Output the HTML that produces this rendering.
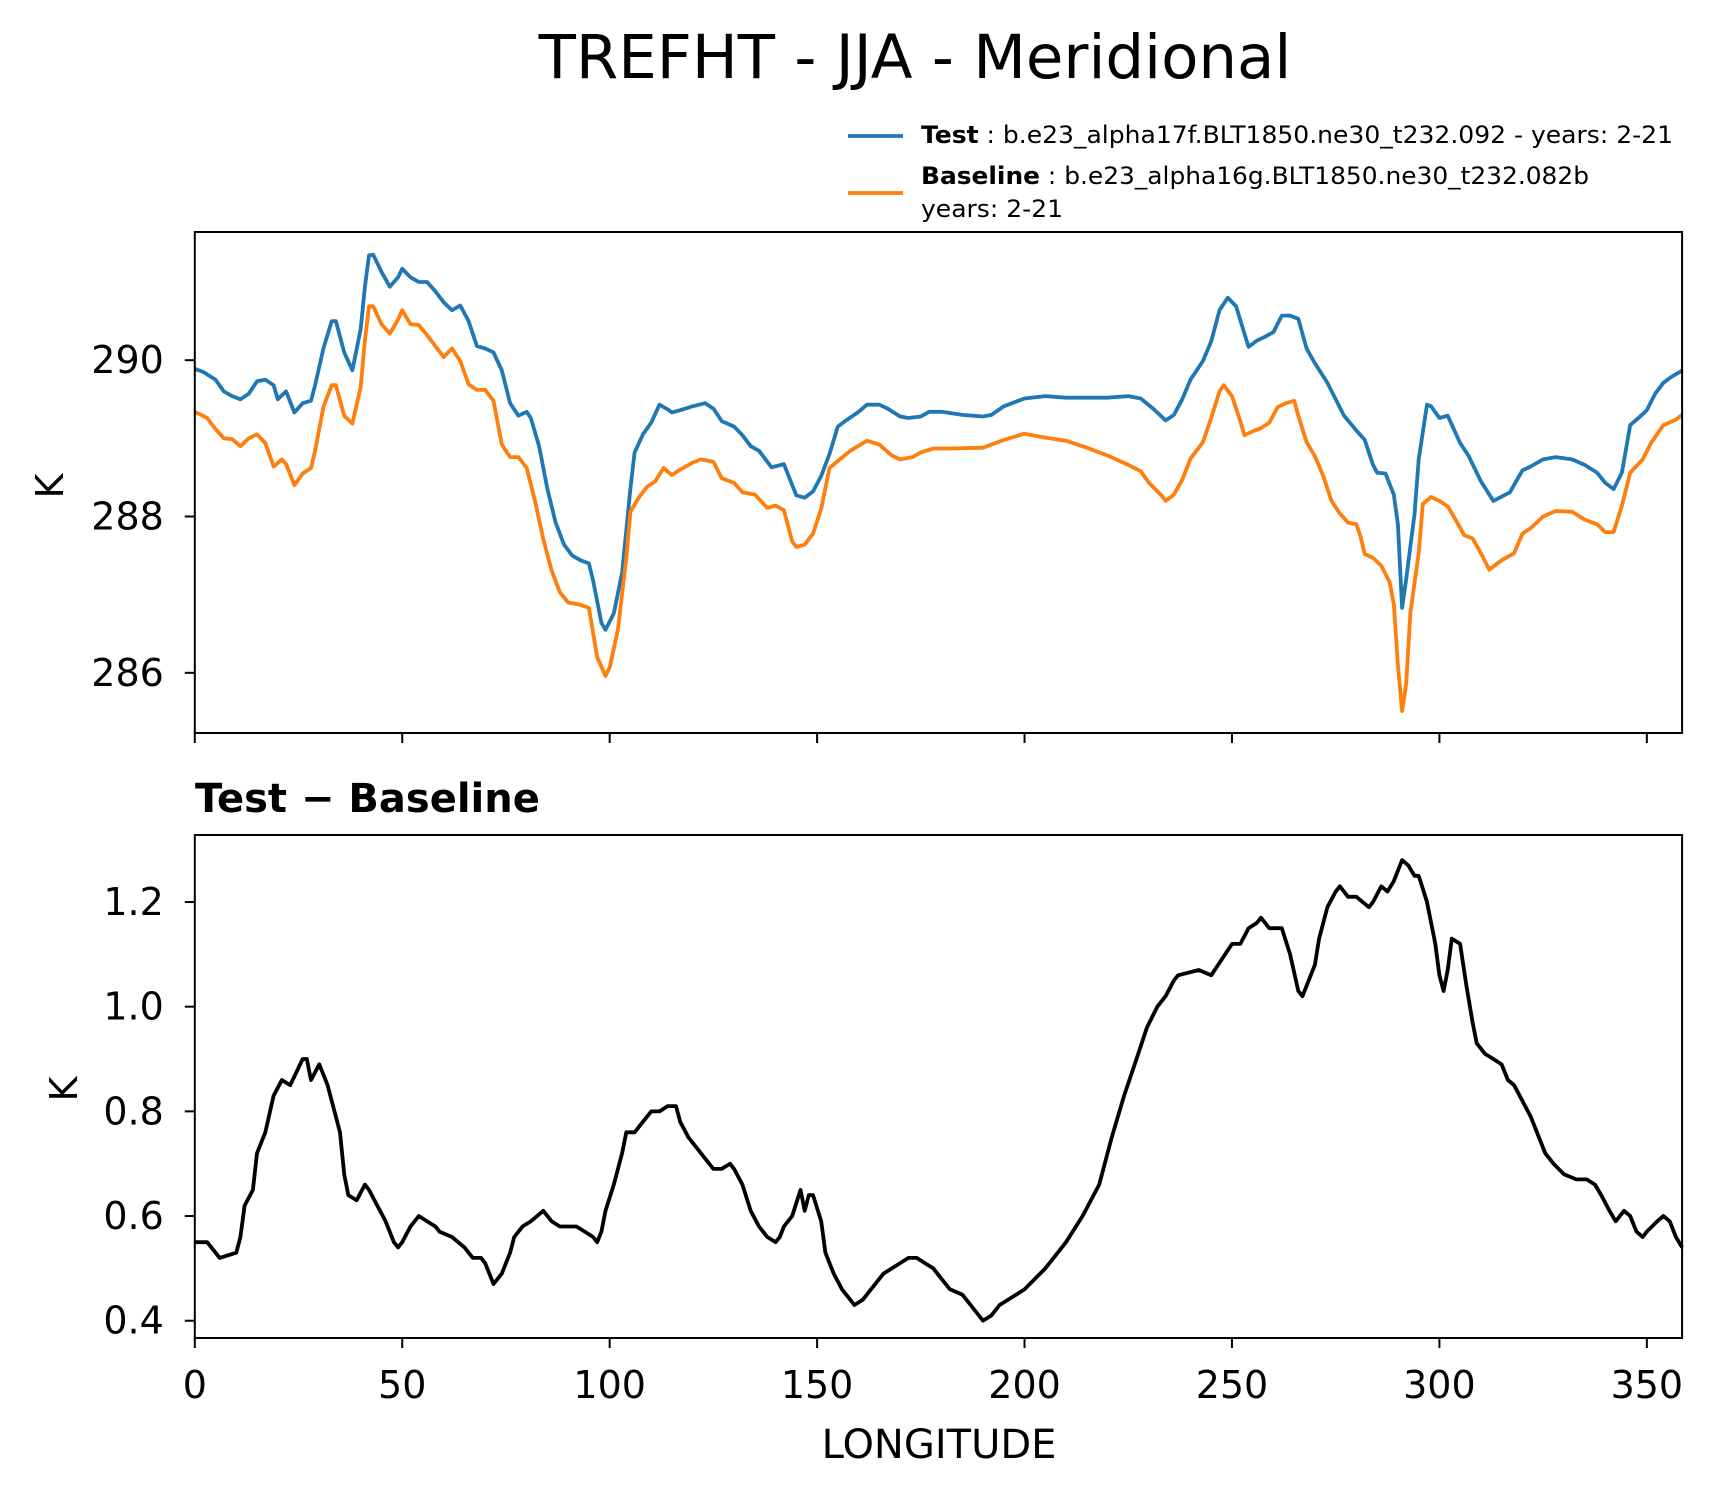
<!DOCTYPE html>
<html><head><meta charset="utf-8"><style>
body{margin:0;background:#fff;}
svg{display:block;font-family:"DejaVu Sans","Liberation Sans",sans-serif;}
</style></head><body>
<svg id="chart" width="1716" height="1496" viewBox="0 0 1716 1496">
<rect width="1716" height="1496" fill="#fff"/>
<text x="915" y="78" font-size="61" text-anchor="middle">TREFHT - JJA - Meridional</text>
<g>
<line x1="848" y1="136" x2="903" y2="136" stroke="#1f77b4" stroke-width="3.8"/>
<text x="921" y="143" font-size="24" textLength="752" lengthAdjust="spacingAndGlyphs"><tspan font-weight="bold">Test</tspan> : b.e23_alpha17f.BLT1850.ne30_t232.092 - years: 2-21</text>
<line x1="848" y1="193" x2="903" y2="193" stroke="#ff7f0e" stroke-width="3.8"/>
<text x="921" y="184" font-size="24" textLength="668" lengthAdjust="spacingAndGlyphs"><tspan font-weight="bold">Baseline</tspan> : b.e23_alpha16g.BLT1850.ne30_t232.082b</text>
<text x="921" y="217" font-size="24" textLength="142" lengthAdjust="spacingAndGlyphs">years: 2-21</text>
</g>
<g id="top"></g>
<text x="195" y="812" font-size="40" font-weight="bold">Test − Baseline</text>
<g id="bot"></g>
<text x="939" y="1458" font-size="40" text-anchor="middle">LONGITUDE</text>
<text transform="translate(63,486) rotate(-90)" font-size="38" text-anchor="middle">K</text>
<text transform="translate(77,1089) rotate(-90)" font-size="38" text-anchor="middle">K</text>
</svg>
<script>
const xTicks=[0,50,100,150,200,250,300,350];
const topTicks=[286,288,290];
const botTicks=[0.4,0.6,0.8,1.0,1.2];
const testLon=[0,2,5,7,9,11,13,15,17,19,20,22,24,26,28,29,31,33,34,36,38,40,41,42,43,45,47,49,50,52,54,56,58,60,62,64,66,68,70,72,74,76,78,80,81,83,85,87,89,91,93,95,96,98,99,101,103,105,106,108,110,112,114,115,117,120,123,125,127,130,132,134,136,139,142,144,145,147,149,151,153,155,157,160,162,165,167,170,172,175,177,180,185,190,192,195,200,205,210,215,220,225,228,231,234,236,238,240,243,245,247,249,251,253,254,256,258,260,262,264,266,268,270,273,275,277,280,282,284,285,287,289,290,291,292,294,295,297,298,300,302,305,307,310,313,317,320,322,325,328,332,335,338,340,342,344,346,348,350,352,354,356,358,358.5];
const testVal=[289.89,289.85,289.75,289.6,289.54,289.5,289.57,289.73,289.75,289.68,289.5,289.6,289.33,289.45,289.48,289.68,290.15,290.5,290.5,290.1,289.87,290.4,290.94,291.34,291.35,291.13,290.94,291.06,291.17,291.06,291.0,291.0,290.88,290.74,290.64,290.7,290.5,290.18,290.15,290.1,289.87,289.45,289.29,289.34,289.26,288.9,288.35,287.92,287.64,287.5,287.44,287.4,287.18,286.64,286.55,286.76,287.28,288.36,288.82,289.05,289.2,289.43,289.37,289.33,289.36,289.41,289.45,289.38,289.22,289.15,289.04,288.9,288.84,288.63,288.67,288.4,288.27,288.24,288.32,288.52,288.8,289.15,289.23,289.34,289.43,289.43,289.38,289.28,289.26,289.28,289.34,289.34,289.3,289.28,289.3,289.41,289.51,289.54,289.52,289.52,289.52,289.54,289.51,289.38,289.23,289.3,289.5,289.75,289.99,290.24,290.64,290.8,290.69,290.34,290.17,290.25,290.3,290.36,290.57,290.57,290.53,290.15,289.96,289.71,289.5,289.29,289.1,288.98,288.66,288.56,288.55,288.28,287.9,286.83,287.2,288.03,288.73,289.43,289.41,289.26,289.29,288.94,288.78,288.45,288.2,288.31,288.59,288.64,288.73,288.76,288.73,288.66,288.56,288.43,288.35,288.56,289.17,289.26,289.36,289.57,289.71,289.79,289.85,289.87];
const baseLon=[0,3,5,7,9,11,13,15,17,19,21,22,24,26,28,29,31,33,34,36,38,40,41,42,43,45,47,49,50,52,54,56,58,60,62,64,66,68,70,72,74,76,78,80,82,84,86,88,90,93,95,97,99,100,102,104,105,107,109,111,113,115,117,120,122,125,127,130,132,135,138,140,142,144,145,147,149,151,153,155,158,162,165,168,170,173,175,178,182,190,195,200,205,210,215,220,225,228,230,233,234,236,238,240,243,245,247,248,250,252,253,255,257,259,261,263,265,266,268,270,272,274,276,278,280,281,282,284,286,288,289,290,291,292,293,295,296,298,300,302,304,306,308,310,312,315,318,320,322,325,328,332,335,338,340,342,344,346,349,351,354,357,358.5];
const baseVal=[289.34,289.26,289.12,289.0,288.99,288.9,289.0,289.05,288.94,288.64,288.73,288.67,288.4,288.55,288.62,288.84,289.4,289.68,289.68,289.29,289.19,289.66,290.25,290.69,290.69,290.46,290.34,290.52,290.64,290.46,290.45,290.32,290.18,290.04,290.15,289.99,289.69,289.62,289.62,289.48,288.92,288.76,288.76,288.62,288.2,287.71,287.31,287.03,286.9,286.87,286.83,286.2,285.96,286.07,286.56,287.47,288.06,288.24,288.38,288.45,288.62,288.53,288.6,288.69,288.73,288.7,288.49,288.43,288.31,288.28,288.11,288.14,288.08,287.68,287.61,287.64,287.78,288.1,288.62,288.71,288.84,288.97,288.92,288.78,288.73,288.76,288.82,288.87,288.87,288.88,288.98,289.06,289.01,288.97,288.88,288.78,288.66,288.58,288.43,288.27,288.2,288.28,288.47,288.74,288.95,289.26,289.6,289.68,289.54,289.22,289.04,289.09,289.13,289.2,289.4,289.45,289.48,289.29,288.95,288.77,288.52,288.2,288.04,287.92,287.9,287.74,287.52,287.47,287.37,287.16,286.88,286.1,285.51,285.86,286.77,287.53,288.16,288.25,288.2,288.13,287.95,287.76,287.72,287.53,287.32,287.44,287.53,287.78,287.85,288.0,288.07,288.06,287.96,287.9,287.8,287.8,288.14,288.56,288.73,288.94,289.17,289.24,289.3];
const diffLon=[0,1,3,6,10,11,12,14,15,17,19,21,23,26,27,28,30,32,35,36,37,39,41,42,44,46,48,49,50,52,54,56,58,59,62,65,67,69,70,72,74,76,77,79,81,84,86,88,90,92,94,96,97,98,99,101,103,104,106,108,110,112,114,116,117,119,122,124,125,127,129,130,132,134,136,138,140,141,142,144,146,147,148,149,151,152,154,156,158,159,161,164,166,168,170,172,174,176,178,180,182,185,187,189,190,192,194,196,198,200,205,210,214,218,221,224,227,229.5,232,234,236,237,242,245,250,252,254,256,257,259,262,264,266,267,270,271,273,275,276,278,280,283,284,286,287.5,289,291,292.5,294,295,297,299,300,301,302,303,305,306.5,308,309,311,313,315,316.5,318,320,322,324,325.5,327.5,330,333,335.5,337.5,339,341,342.5,344.5,346,347.5,349,350,352.5,354,355.5,357,358.5];
const diffVal=[0.55,0.55,0.55,0.52,0.53,0.56,0.62,0.65,0.72,0.76,0.83,0.86,0.85,0.9,0.9,0.86,0.89,0.85,0.76,0.68,0.64,0.63,0.66,0.65,0.62,0.59,0.55,0.54,0.55,0.58,0.6,0.59,0.58,0.57,0.56,0.54,0.52,0.52,0.51,0.47,0.49,0.53,0.56,0.58,0.59,0.61,0.59,0.58,0.58,0.58,0.57,0.56,0.55,0.57,0.61,0.66,0.72,0.76,0.76,0.78,0.8,0.8,0.81,0.81,0.78,0.75,0.72,0.7,0.69,0.69,0.7,0.69,0.66,0.61,0.58,0.56,0.55,0.56,0.58,0.6,0.65,0.61,0.64,0.64,0.59,0.53,0.49,0.46,0.44,0.43,0.44,0.47,0.49,0.5,0.51,0.52,0.52,0.51,0.5,0.48,0.46,0.45,0.43,0.41,0.4,0.41,0.43,0.44,0.45,0.46,0.5,0.55,0.6,0.66,0.75,0.83,0.9,0.96,1.0,1.02,1.05,1.06,1.07,1.06,1.12,1.12,1.15,1.16,1.17,1.15,1.15,1.1,1.03,1.02,1.08,1.13,1.19,1.22,1.23,1.21,1.21,1.19,1.2,1.23,1.22,1.24,1.28,1.27,1.25,1.25,1.2,1.12,1.06,1.03,1.07,1.13,1.12,1.04,0.97,0.93,0.91,0.9,0.89,0.86,0.85,0.82,0.79,0.75,0.72,0.7,0.68,0.67,0.67,0.66,0.64,0.61,0.59,0.61,0.6,0.57,0.56,0.57,0.59,0.6,0.59,0.56,0.54];

const NS='http://www.w3.org/2000/svg';
const L=194.8,R=1682.1,XMAX=358.5;
const xs=v=>L+(v/XMAX)*(R-L);
function mk(tag,attrs,parent){const e=document.createElementNS(NS,tag);for(const k in attrs)e.setAttribute(k,attrs[k]);parent.appendChild(e);return e;}
function panel(g,top,bot,ymin,ymax,ticks,fmt,series,showX){
  const ys=v=>bot-(v-ymin)/(ymax-ymin)*(bot-top);
  series.forEach(s=>{
    const p=mk('polyline',{points:s.lon.map((l,i)=>xs(l).toFixed(1)+','+ys(s.val[i]).toFixed(1)).join(' '),fill:'none',stroke:s.color,'stroke-width':3.8,'stroke-linejoin':'round'},g);
    
    
  });
  const fr=mk('rect',{x:L,y:top,width:R-L,height:bot-top,fill:'none',stroke:'#000','stroke-width':2},g);
  
  
  ticks.forEach(t=>{
    const y=ys(t);
    const tl=mk('line',{x1:L-10,x2:L,y1:y,y2:y,stroke:'#000','stroke-width':2},g);
    
    
    const tx=mk('text',{x:L-31,y:y+13,'font-size':38,'text-anchor':'end'},g);
    tx.textContent=fmt(t);
    
    
  });
  xTicks.forEach(t=>{
    const x=xs(t);
    const tl=mk('line',{x1:x,x2:x,y1:bot,y2:bot+10,stroke:'#000','stroke-width':2},g);
    
    
    if(showX){
      const tx=mk('text',{x:x,y:bot+60,'font-size':38,'text-anchor':'middle'},g);
      tx.textContent=String(t);
      
      
    }
  });
}
panel(document.getElementById('top'),232,733,285.23,291.64,topTicks,t=>String(t),
  [{lon:testLon,val:testVal,color:'#1f77b4',name:'test-line'},{lon:baseLon,val:baseVal,color:'#ff7f0e',name:'baseline-line'}],false);
panel(document.getElementById('bot'),835,1338,0.367,1.328,botTicks,t=>t.toFixed(1),
  [{lon:diffLon,val:diffVal,color:'#000',name:'diff-line'}],true);
</script>
</body></html>
